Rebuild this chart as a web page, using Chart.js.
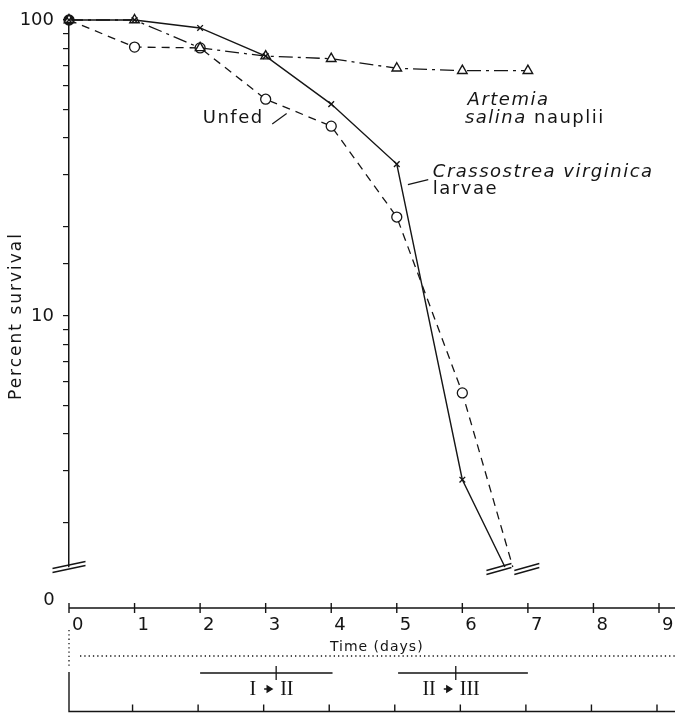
<!DOCTYPE html>
<html>
<head>
<meta charset="utf-8">
<script src="https://cdn.jsdelivr.net/npm/chart.js@4.4.1/dist/chart.umd.min.js"></script>
<style>
html, body { margin: 0; padding: 0; background: #fff; }
#wrap { width: 675px; height: 713px; position: relative; }
</style>
</head>
<body>
<div id="wrap"><canvas id="chart"></canvas></div>
<script>
// time axis and log survival axis
const days = [0, 1, 2, 3, 4, 5, 6, 7, 8, 9];
const yTickLabels = [10, 100];
const yMin = 1.42, yMax = 100;

// Crassostrea virginica larvae (x, solid)
const crassDays = [0, 1, 2, 3, 4, 5, 6, 6.65];
const crassSurvival = [100, 100, 94, 75.5, 52, 32.6, 2.8, 1.42];
// Unfed (circles, dashed)
const unfedDays = [0, 1, 2, 3, 4, 5, 6, 6.77];
const unfedSurvival = [100, 81, 80.5, 54, 43.8, 21.6, 5.5, 1.42];
// Artemia salina nauplii (triangles, dash-dot)
const artemiaDays = [0, 1, 2, 3, 4, 5, 6, 7];
const artemiaSurvival = [100, 100, 80.5, 75.5, 74, 68.7, 67.4, 67.4];

// larval stage transitions
const stageNames = [['I', 'II'], ['II', 'III']];
const stageFrom = [2, 5.02];
const stageTo = [4.02, 7];
const stageMark = [3.16, 5.9];

const INK = '#151515';
const FONT = '"DejaVu Sans", sans-serif';

const toPoints = (xs, ys) => xs.map((d, i) => ({x: d, y: ys[i]}));
const lastHidden = (n, r) => Array.from({length: n}, (_, i) => i === n - 1 ? 0 : r);

const drawBreak = (ctx, cx, cy, w) => {
	ctx.save();
	ctx.strokeStyle = INK;
	ctx.lineWidth = 1.3;
	ctx.setLineDash([]);
	[-2, 2].forEach(off => {
		ctx.beginPath();
		ctx.moveTo(cx - w / 2, cy + off + 3.5);
		ctx.lineTo(cx + w / 2, cy + off - 3.5);
		ctx.stroke();
	});
	ctx.restore();
};

const extras = {
	id: 'extras',
	afterDraw(chart) {
		const {ctx, chartArea, scales: {x, y}} = chart;
		const X = v => x.getPixelForValue(v);
		const Y = v => y.getPixelForValue(v);
		const left = chartArea.left;
		const bottom = chartArea.bottom;
		const W = chart.width;

		ctx.save();
		ctx.fillStyle = INK;
		ctx.strokeStyle = INK;

		// y title
		ctx.save();
		ctx.translate(17, 316);
		ctx.rotate(-Math.PI / 2);
		ctx.font = `17px ${FONT}`;
		ctx.letterSpacing = '2px';
		ctx.textAlign = 'center';
		ctx.textBaseline = 'middle';
		ctx.fillText('Percent survival', 0, 0);
		ctx.restore();

		// axis breaks
		drawBreak(ctx, left, bottom, 33);
		drawBreak(ctx, X(crassDays[crassDays.length - 1]) - 6, bottom + 2, 25);
		drawBreak(ctx, X(unfedDays[unfedDays.length - 1]) + 14, bottom + 2, 25);

		// series labels
		ctx.textBaseline = 'middle';
		ctx.textAlign = 'left';
		ctx.lineWidth = 1.2;
		ctx.letterSpacing = '1.5px';
		ctx.font = `18px ${FONT}`;
		ctx.fillText('Unfed', X(2.04), Y(46.6));
		ctx.beginPath();
		ctx.moveTo(X(3.1), Y(44.5));
		ctx.lineTo(X(3.32), Y(48.3));
		ctx.stroke();

		ctx.font = `italic 18px ${FONT}`;
		ctx.fillText('Artemia', X(6.08), Y(53.7));
		const ax = X(6.04), ay = Y(46.6);
		ctx.fillText('salina', ax, ay);
		const sw = ctx.measureText('salina ').width;
		ctx.font = `18px ${FONT}`;
		ctx.fillText('nauplii', ax + sw, ay);

		ctx.font = `italic 18px ${FONT}`;
		ctx.fillText('Crassostrea virginica', X(5.55), Y(30.6));
		ctx.font = `18px ${FONT}`;
		ctx.fillText('larvae', X(5.55), Y(26.8));
		ctx.beginPath();
		ctx.moveTo(X(5.17), Y(27.8));
		ctx.lineTo(X(5.48), Y(28.9));
		ctx.stroke();
		ctx.letterSpacing = '0px';

		// zero axis
		const zeroY = bottom + 41;
		ctx.font = `18px ${FONT}`;
		ctx.textAlign = 'center';
		ctx.fillText('0', 49, zeroY - 8);
		ctx.lineWidth = 1.4;
		ctx.beginPath();
		ctx.moveTo(left, zeroY);
		ctx.lineTo(W, zeroY);
		days.forEach(d => {
			ctx.moveTo(X(d), zeroY - 5);
			ctx.lineTo(X(d), zeroY + 5);
		});
		ctx.stroke();
		ctx.textAlign = 'left';
		days.forEach(d => ctx.fillText(String(d), X(d) + 3, zeroY + 17));
		ctx.font = `14px ${FONT}`;
		ctx.letterSpacing = '1px';
		ctx.fillText('Time (days)', X(3.98), zeroY + 39);
		ctx.letterSpacing = '0px';

		// dotted lines
		ctx.save();
		ctx.lineWidth = 1.3;
		ctx.setLineDash([1.3, 3]);
		ctx.beginPath();
		ctx.moveTo(left + 11, zeroY + 48);
		ctx.lineTo(W, zeroY + 48);
		ctx.moveTo(left, zeroY + 22);
		ctx.lineTo(left, zeroY + 60);
		ctx.stroke();
		ctx.restore();

		// stage bars
		ctx.lineWidth = 1.3;
		stageNames.forEach((names, i) => {
			const by = zeroY + 65;
			const m = X(stageMark[i]);
			ctx.beginPath();
			ctx.moveTo(X(stageFrom[i]), by);
			ctx.lineTo(X(stageTo[i]), by);
			ctx.moveTo(m, by - 7);
			ctx.lineTo(m, by + 7);
			ctx.stroke();
			const ay2 = by + 16;
			const cx = m - 8;
			ctx.beginPath();
			ctx.moveTo(cx - 4, ay2);
			ctx.lineTo(cx, ay2);
			ctx.moveTo(cx + 4, ay2);
			ctx.lineTo(cx - 1, ay2 - 3);
			ctx.lineTo(cx - 1, ay2 + 3);
			ctx.closePath();
			ctx.fill();
			ctx.stroke();
			ctx.font = `20px "Liberation Serif", serif`;
			ctx.textAlign = 'right';
			ctx.fillText(names[0], cx - 12, ay2 + 1);
			ctx.textAlign = 'left';
			ctx.fillText(names[1], cx + 12, ay2 + 1);
		});

		// cut-off bottom axis
		const baseY = chart.height - 1.5;
		ctx.lineWidth = 1.4;
		ctx.beginPath();
		ctx.moveTo(left, zeroY + 64);
		ctx.lineTo(left, baseY);
		ctx.lineTo(W, baseY);
		days.slice(1).forEach(d => {
			ctx.moveTo(X(d) - 2, baseY);
			ctx.lineTo(X(d) - 2, baseY - 7);
		});
		ctx.stroke();

		ctx.restore();
	}
};

const config = {
	type: 'scatter',
	data: {
		datasets: [
			{
				label: 'Crassostrea virginica larvae',
				data: toPoints(crassDays, crassSurvival),
				showLine: true,
				borderColor: INK,
				borderWidth: 1.4,
				pointStyle: 'crossRot',
				pointRadius: lastHidden(crassDays.length, 4),
				pointBorderColor: INK,
				pointBorderWidth: 1.4,
				clip: false
			},
			{
				label: 'Artemia salina nauplii',
				data: toPoints(artemiaDays, artemiaSurvival),
				showLine: true,
				borderColor: INK,
				borderWidth: 1.3,
				borderDash: [14, 5, 3, 5],
				pointStyle: 'triangle',
				pointRadius: 5.5,
				pointBackgroundColor: '#fff',
				pointBorderColor: INK,
				pointBorderWidth: 1.4,
				clip: false
			},
			{
				label: 'Unfed',
				data: toPoints(unfedDays, unfedSurvival),
				showLine: true,
				borderColor: INK,
				borderWidth: 1.3,
				borderDash: [8, 6],
				pointStyle: 'circle',
				pointRadius: lastHidden(unfedDays.length, 5),
				pointBackgroundColor: unfedDays.map((d, i) => i === 0 ? INK : '#fff'),
				pointBorderColor: INK,
				pointBorderWidth: 1.3,
				clip: false
			}
		]
	},
	options: {
		responsive: true,
		maintainAspectRatio: false,
		animation: false,
		layout: {padding: {top: 20, right: 16, bottom: 146, left: 0}},
		plugins: {
			legend: {display: false},
			tooltip: {enabled: false}
		},
		scales: {
			x: {
				type: 'linear',
				min: 0,
				max: 9,
				display: false
			},
			y: {
				type: 'logarithmic',
				min: yMin,
				max: yMax,
				afterFit: s => { s.width = 69; },
				afterBuildTicks: s => {
					s.ticks = s.ticks.filter(t => Number.isInteger(t.value) && t.value >= 2);
				},
				border: {display: true, color: INK, width: 1.5},
				grid: {
					display: true,
					drawOnChartArea: false,
					drawTicks: true,
					tickLength: 6,
					color: INK,
					lineWidth: 1.2
				},
				ticks: {
					autoSkip: false,
					color: INK,
					padding: 9,
					font: {family: FONT, size: 18},
					callback: v => yTickLabels.includes(v) ? String(v) : ''
				}
			}
		}
	},
	plugins: [extras]
};

new Chart(document.getElementById('chart'), config);
</script>
</body>
</html>
